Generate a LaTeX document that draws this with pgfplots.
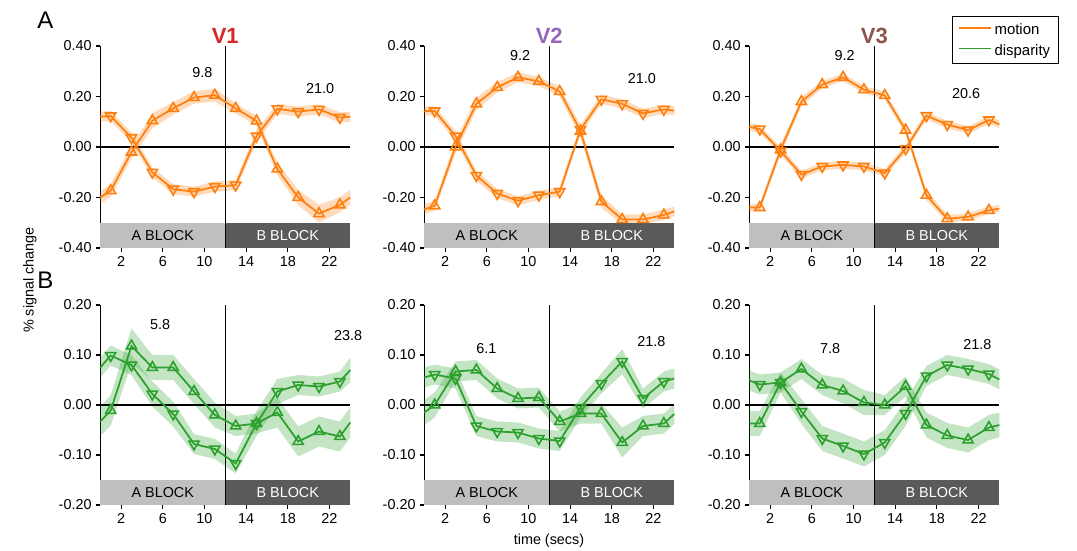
\documentclass[border=0pt]{standalone}
\usepackage{fontspec}
\setmainfont{Liberation Sans}
\usepackage{pgfplots}
\pgfplotsset{compat=1.18}
\usepackage{pgfplotstable}
\usepgfplotslibrary{fillbetween}

\definecolor{morange}{HTML}{FF7F0E}
\definecolor{mgreen}{HTML}{2CA02C}
\definecolor{vred}{HTML}{D62728}
\definecolor{vpurple}{HTML}{9467BD}
\definecolor{vbrown}{HTML}{8C564B}
\definecolor{ablock}{HTML}{BFBFBF}
\definecolor{bblock}{HTML}{5A5A5A}

% u = up-triangle series, d = down-triangle series, *e = half width of the band
\pgfplotstableread{
x  u      ue     d      de
0  -0.200 0.025  0.120  0.020
1  -0.173 0.025  0.123  0.020
3  -0.020 0.025  0.037  0.020
5  0.104  0.030  -0.100 0.020
7  0.153  0.025  -0.167 0.020
9  0.196  0.025  -0.177 0.020
11 0.205  0.025  -0.157 0.020
13 0.153  0.020  -0.151 0.020
15 0.103  0.020  0.043  0.025
17 -0.087 0.025  0.151  0.020
19 -0.200 0.030  0.140  0.020
21 -0.264 0.035  0.149  0.020
23 -0.229 0.030  0.117  0.020
24 -0.200 0.030  0.120  0.020
}\mVone
\pgfplotstableread{
x  u      ue     d      de
0  -0.247 0.020  0.143  0.018
1  -0.233 0.020  0.143  0.018
3  0.000  0.025  0.043  0.020
5  0.171  0.025  -0.113 0.020
7  0.236  0.020  -0.184 0.018
9  0.276  0.020  -0.213 0.018
11 0.260  0.018  -0.191 0.018
13 0.220  0.020  -0.177 0.018
15 0.063  0.025  0.069  0.020
17 -0.216 0.025  0.189  0.018
19 -0.287 0.020  0.171  0.018
21 -0.287 0.020  0.133  0.018
23 -0.269 0.020  0.149  0.018
24 -0.255 0.020  0.144  0.018
}\mVtwo
\pgfplotstableread{
x  u      ue     d      de
0  -0.240 0.015  0.080  0.015
1  -0.240 0.015  0.071  0.015
3  -0.011 0.020  -0.016 0.015
5  0.180  0.018  -0.109 0.015
7  0.247  0.015  -0.077 0.015
9  0.276  0.015  -0.071 0.015
11 0.227  0.015  -0.077 0.015
13 0.204  0.015  -0.103 0.015
15 0.067  0.018  -0.007 0.015
17 -0.191 0.020  0.124  0.015
19 -0.284 0.015  0.089  0.015
21 -0.277 0.015  0.067  0.015
23 -0.251 0.015  0.107  0.015
24 -0.244 0.015  0.090  0.015
}\mVthree
\pgfplotstableread{
x  u      ue     d      de
0  -0.033 0.030  0.075  0.020
1  -0.011 0.030  0.099  0.020
3  0.118  0.035  0.080  0.020
5  0.075  0.025  0.022  0.025
7  0.075  0.025  -0.018 0.025
9  0.027  0.025  -0.078 0.020
11 -0.020 0.025  -0.088 0.020
13 -0.042 0.020  -0.117 0.020
15 -0.037 0.020  -0.037 0.025
17 -0.015 0.030  0.027  0.025
19 -0.073 0.030  0.040  0.020
21 -0.053 0.030  0.037  0.020
23 -0.063 0.030  0.047  0.020
24 -0.035 0.030  0.070  0.025
}\dVone
\pgfplotstableread{
x  u      ue     d      de
0  -0.015 0.025  0.055  0.020
1  0.000  0.025  0.061  0.020
3  0.067  0.020  0.053  0.020
5  0.070  0.020  -0.042 0.020
7  0.033  0.020  -0.053 0.020
9  0.013  0.020  -0.055 0.020
11 0.015  0.020  -0.067 0.020
13 -0.033 0.020  -0.072 0.020
15 -0.017 0.020  -0.005 0.020
17 -0.017 0.020  0.043  0.020
19 -0.075 0.030  0.087  0.025
21 -0.042 0.020  0.013  0.020
23 -0.037 0.020  0.047  0.020
24 -0.018 0.020  0.053  0.020
}\dVtwo
\pgfplotstableread{
x  u      ue     d      de
0  -0.037 0.025  0.049  0.020
1  -0.037 0.025  0.041  0.020
3  0.045  0.020  0.045  0.020
5  0.072  0.020  -0.013 0.025
7  0.040  0.020  -0.067 0.025
9  0.028  0.025  -0.082 0.025
11 0.005  0.025  -0.098 0.025
13 0.000  0.020  -0.075 0.025
15 0.037  0.020  -0.017 0.025
17 -0.040 0.025  0.058  0.020
19 -0.061 0.025  0.080  0.020
21 -0.070 0.025  0.072  0.020
23 -0.045 0.025  0.062  0.020
24 -0.040 0.025  0.051  0.020
}\dVthree

\newcommand{\fs}{\fontsize{10.8}{13}\selectfont}

\pgfplotsset{
  panel/.style={
    scale only axis, width=187.5pt, clip=false,
    xmin=0, xmax=24, xtick={2,6,10,14,18,22},
    axis x line*=bottom, axis y line*=left,
    x axis line style={draw=none},
    axis line style={line width=0.9pt},
    tick align=outside, major tick length=3pt,
    tick style={black, line width=0.9pt},
    /pgf/number format/assume math mode=true,
    yticklabel style={/pgf/number format/.cd, fixed, fixed zerofill, precision=2},
    every tick label/.append style={font=\fs},
  },
  rowA/.style={panel, height=151.5pt, ymin=-0.4, ymax=0.4, ytick={-0.4,-0.2,0,0.2,0.4}},
  rowB/.style={panel, height=150pt, ymin=-0.2, ymax=0.2, ytick={-0.2,-0.1,0,0.1,0.2}},
}

% grey block bars, the zero line and the block boundary
\newcommand{\panelframe}[4]{% ymin, bar top, bar middle, ymax
  \fill[ablock] (axis cs:0,#1) rectangle (axis cs:12,#2);
  \fill[bblock] (axis cs:12,#1) rectangle (axis cs:24,#2);
  \node[font=\fs] at (axis cs:6,#3) {A BLOCK};
  \node[font=\fs, white] at (axis cs:18,#3) {B BLOCK};
  \draw[black, line width=1.1pt] (axis cs:0,0) -- (axis cs:24,0);
  \draw[black, line width=1.1pt] (axis cs:12,#1) -- (axis cs:12,#4);
}
\newcommand{\band}[3]{% table, column, colour
  \addplot[draw=none, forget plot, name path=#2hi] table[x=x, y expr=\thisrow{#2}+\thisrow{#2e}] {#1};
  \addplot[draw=none, forget plot, name path=#2lo] table[x=x, y expr=\thisrow{#2}-\thisrow{#2e}] {#1};
  \addplot[fill=#3, fill opacity=0.28, draw=none, forget plot] fill between[of=#2hi and #2lo];
}
\newcommand{\curve}[4]{% table, column, colour, marker rotation
  \addplot[#3, line width=1.3pt, forget plot] table[x=x, y=#2] {#1};
  \addplot[#3, only marks, mark=triangle, mark size=4.4pt,
    mark options={fill=white, line width=1.2pt, rotate=#4},
    restrict x to domain=0.5:23.5, forget plot] table[x=x, y=#2] {#1};
}
\newcommand{\both}[2]{% table, colour
  \band{#1}{u}{#2}\band{#1}{d}{#2}
  \curve{#1}{u}{#2}{0}\curve{#1}{d}{#2}{180}
}

\begin{document}
\begin{tikzpicture}[font=\fs]

% ---- row A: motion
\begin{axis}[rowA, at={(75.2pt,-34.5pt)}, anchor=north west]
\panelframe{-0.4}{-0.30}{-0.35}{0.4}
\both{\mVone}{morange}
\node at (axis cs:9.8,0.294) {9.8};
\node at (axis cs:21.1,0.23) {21.0};
\node[anchor=base, font=\fontsize{16.5}{18}\selectfont\bfseries, vred] at (axis description cs:0.5,1) [yshift=2pt] {V1};
\end{axis}

\begin{axis}[rowA, at={(318.2pt,-34.5pt)}, anchor=north west]
\panelframe{-0.4}{-0.30}{-0.35}{0.4}
\both{\mVtwo}{morange}
\node at (axis cs:9.2,0.363) {9.2};
\node at (axis cs:20.9,0.27) {21.0};
\node[anchor=base, font=\fontsize{16.5}{18}\selectfont\bfseries, vpurple] at (axis description cs:0.5,1) [yshift=2pt] {V2};
\end{axis}

\begin{axis}[rowA, at={(562pt,-34.5pt)}, anchor=north west,
  legend style={at={(axis description cs:0.811,1.148)}, anchor=north west,
    draw=black, line width=0.9pt, font=\fontsize{11.2}{13}\selectfont,
    inner xsep=4pt, inner ysep=3pt, row sep=2pt,
    cells={anchor=west}},
  legend image code/.code={\draw[#1, line width=1.4pt] (0pt,0.3ex) -- (24pt,0.3ex);}]
\panelframe{-0.4}{-0.30}{-0.35}{0.4}
\both{\mVthree}{morange}
\node at (axis cs:9.15,0.363) {9.2};
\node at (axis cs:20.8,0.21) {20.6};
\node[anchor=base, font=\fontsize{16.5}{18}\selectfont\bfseries, vbrown] at (axis description cs:0.5,1) [yshift=2pt] {V3};
\addlegendimage{morange}
\addlegendentry{motion}
\addlegendimage{mgreen}
\addlegendentry{disparity}
\end{axis}

% ---- row B: disparity
\begin{axis}[rowB, at={(75.2pt,-228.75pt)}, anchor=north west]
\panelframe{-0.2}{-0.15}{-0.175}{0.2}
\both{\dVone}{mgreen}
\node at (axis cs:5.75,0.16) {5.8};
\node at (axis cs:23.8,0.139) {23.8};
\end{axis}

\begin{axis}[rowB, at={(318.2pt,-228.75pt)}, anchor=north west]
\panelframe{-0.2}{-0.15}{-0.175}{0.2}
\both{\dVtwo}{mgreen}
\node at (axis cs:5.96,0.113) {6.1};
\node at (axis cs:21.8,0.127) {21.8};
\end{axis}

\begin{axis}[rowB, at={(562pt,-228.75pt)}, anchor=north west]
\panelframe{-0.2}{-0.15}{-0.175}{0.2}
\both{\dVthree}{mgreen}
\node at (axis cs:7.75,0.113) {7.8};
\node at (axis cs:21.9,0.121) {21.8};
\end{axis}

\node[font=\fontsize{18}{20}\selectfont] at (34pt,-15.5pt) {A};
\node[font=\fontsize{18}{20}\selectfont] at (34pt,-210.5pt) {B};
\node[rotate=90] at (22.5pt,-210pt) {\% signal change};
\node at (411.75pt,-405.75pt) {time (secs)};

\pgfresetboundingbox
\path[use as bounding box] (0,0) rectangle (807.75pt,-412.5pt);
\end{tikzpicture}
\end{document}
